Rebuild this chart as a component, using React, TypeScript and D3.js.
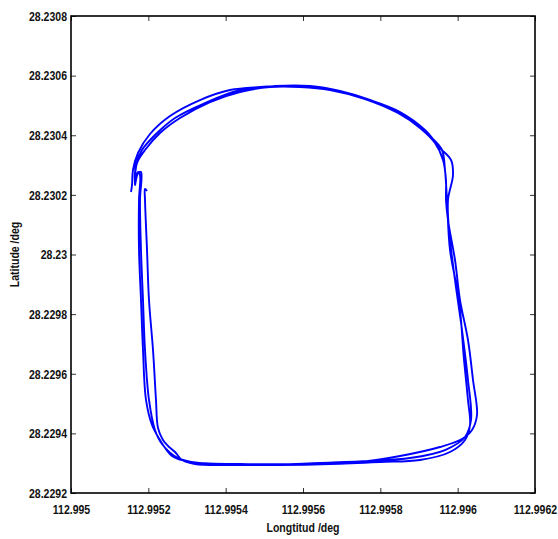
import { useEffect, useRef } from 'react';
import * as d3 from 'd3';

// tick values as shown on the axes
const lonTicks = [112.995, 112.9952, 112.9954, 112.9956, 112.9958, 112.996, 112.9962];
const latTicks = [28.2292, 28.2294, 28.2296, 28.2298, 28.23, 28.2302, 28.2304, 28.2306, 28.2308];

// GPS track, three laps
const lonLap1 = [112.9951966, 112.9951914, 112.9951914, 112.9951966, 112.9952017, 112.9952121, 112.9952198, 112.995225, 112.9952379, 112.9952509, 112.995269, 112.9952871, 112.9953207, 112.9954112, 112.9955405, 112.9956698, 112.9957991, 112.9959026, 112.9959802, 112.996019, 112.9960319, 112.9960267, 112.9960164, 112.9960034, 112.9959802, 112.9959724, 112.9959672, 112.9959595, 112.9959336, 112.9958974, 112.9958509, 112.9957733, 112.9956957, 112.9956181, 112.9955276, 112.9954371, 112.9953466, 112.995269, 112.9952172, 112.9951836, 112.9951681, 112.9951655, 112.9951733];
const latLap1 = [28.230213, 28.2302197, 28.2301828, 28.2300151, 28.2298474, 28.2296797, 28.229512, 28.229418, 28.2293778, 28.2293577, 28.2293375, 28.2293107, 28.2292973, 28.2292939, 28.2292939, 28.2292973, 28.229304, 28.2293107, 28.2293375, 28.2293778, 28.2294281, 28.229512, 28.2296461, 28.2298474, 28.2300151, 28.2301828, 28.2302834, 28.2303505, 28.2303908, 28.2304344, 28.2304746, 28.2305182, 28.2305484, 28.2305652, 28.2305652, 28.2305518, 28.2305082, 28.2304579, 28.2304008, 28.2303505, 28.2303002, 28.2302499, 28.2302767];

const lonLap2 = [112.9951784, 112.9951759, 112.9951759, 112.995181, 112.9951862, 112.995194, 112.9952095, 112.9952302, 112.9952612, 112.9953078, 112.9954371, 112.9955922, 112.9957474, 112.9958509, 112.9959543, 112.9960112, 112.9960371, 112.99605, 112.9960397, 112.9960267, 112.996006, 112.9959931, 112.995975, 112.9959698, 112.9959698, 112.9959621, 112.9959414, 112.9959026, 112.9958457, 112.9957603, 112.9956698, 112.9955922, 112.9955147, 112.9954371, 112.9953595, 112.9952819, 112.9952302, 112.9951914, 112.9951707, 112.9951655, 112.9951733];
const latLap2 = [28.2302667, 28.2301828, 28.2300151, 28.2298474, 28.2296797, 28.229512, 28.2294281, 28.2293778, 28.2293241, 28.229304, 28.2292973, 28.2292973, 28.229304, 28.2293241, 28.2293543, 28.2293811, 28.2294113, 28.2294616, 28.229579, 28.2297132, 28.2298474, 28.2299816, 28.2301157, 28.2301828, 28.2302499, 28.230317, 28.230374, 28.2304243, 28.2304746, 28.2305216, 28.2305518, 28.2305618, 28.2305618, 28.2305451, 28.2305115, 28.2304579, 28.2304076, 28.2303505, 28.2303069, 28.2302331, 28.2302734];

const lonLap3 = [112.995181, 112.9951784, 112.995181, 112.9951862, 112.9951914, 112.9952017, 112.9952172, 112.9952353, 112.9952767, 112.9953336, 112.9954888, 112.995644, 112.9957733, 112.9958767, 112.9959672, 112.996019, 112.9960345, 112.9960267, 112.9960112, 112.9959931, 112.9959776, 112.995975, 112.9959879, 112.9959828, 112.9959543, 112.9959155, 112.9958509, 112.9957733, 112.9956698, 112.9955664, 112.9954888, 112.9954112, 112.9953336, 112.995256, 112.9952043, 112.9951733, 112.9951603, 112.9951578, 112.9951552];
const latLap3 = [28.2302767, 28.2301828, 28.2300151, 28.2298474, 28.2296797, 28.229512, 28.2294113, 28.2293644, 28.2293174, 28.2293006, 28.2292939, 28.2293006, 28.2293073, 28.2293174, 28.2293442, 28.2293878, 28.2294449, 28.229579, 28.2297468, 28.2299145, 28.2300822, 28.2301828, 28.2302667, 28.230317, 28.2303572, 28.2304176, 28.230478, 28.2305182, 28.2305551, 28.2305652, 28.2305618, 28.2305518, 28.2305182, 28.2304646, 28.2304042, 28.2303405, 28.2302834, 28.2302331, 28.2302096];

const lonAll = [...lonLap1, ...lonLap2, ...lonLap3];
const latAll = [...latLap1, ...latLap2, ...latLap3];

const fmt = (v: number) => String(+v.toFixed(4));

const App = () => {
  const ref = useRef<SVGSVGElement>(null);
  useEffect(() => {
    const svg = d3.select(ref.current);
    svg.selectAll('*').remove();
    const width = 558;
    const height = 539;
    const margin = { top: 16, right: 23, bottom: 46, left: 71 };
    const innerWidth = width - margin.left - margin.right;
    const innerHeight = height - margin.top - margin.bottom;
    const font = '"Liberation Sans", Arial, sans-serif';
    const fs = '13.5px';
    const squeeze = 0.78;

    const xScale = d3.scaleLinear().domain([112.995, 112.9962]).range([0, innerWidth]);
    const yScale = d3.scaleLinear().domain([28.2292, 28.2308]).range([innerHeight, 0]);

    const g = svg.append('g').attr('transform', `translate(${margin.left},${margin.top})`);

    // track
    const pts: [number, number][] = lonAll.map((d, i) => [d, latAll[i]]);
    const line = d3.line<[number, number]>()
      .x(d => xScale(d[0]))
      .y(d => yScale(d[1]))
      .curve(d3.curveCatmullRom.alpha(0.5));
    g.append('path').datum(pts)
      .attr('d', line)
      .attr('fill', 'none')
      .attr('stroke', '#0000ff')
      .attr('stroke-width', 1.9)
      .attr('stroke-linejoin', 'round');

    // axes, ticks pointing inward
    const styleAxis = (a: d3.Selection<SVGGElement, unknown, null, undefined>) => {
      a.select('.domain').remove();
      a.selectAll('.tick line').attr('stroke', '#333').attr('stroke-width', 1);
      a.selectAll('.tick text')
        .attr('fill', '#111')
        .style('font-family', font)
        .style('font-weight', 'bold')
        .style('font-size', fs);
    };

    const xAxisG = g.append('g').attr('transform', `translate(0,${innerHeight})`)
      .call(d3.axisBottom(xScale).tickValues(lonTicks).tickFormat(d => fmt(+d)).tickSize(-5).tickSizeOuter(0).tickPadding(11));
    styleAxis(xAxisG);
    const xTopG = g.append('g')
      .call(d3.axisTop(xScale).tickValues(lonTicks).tickFormat(() => '').tickSize(-5).tickSizeOuter(0));
    styleAxis(xTopG);
    const yAxisG = g.append('g')
      .call(d3.axisLeft(yScale).tickValues(latTicks).tickFormat(d => fmt(+d)).tickSize(-5).tickSizeOuter(0).tickPadding(4));
    styleAxis(yAxisG);
    const yRightG = g.append('g').attr('transform', `translate(${innerWidth},0)`)
      .call(d3.axisRight(yScale).tickValues(latTicks).tickFormat(() => '').tickSize(-5).tickSizeOuter(0));
    styleAxis(yRightG);

    // box
    g.append('rect')
      .attr('width', innerWidth).attr('height', innerHeight)
      .attr('fill', 'none').attr('stroke', '#000').attr('stroke-width', 1.6);

    // axis titles
    svg.append('text').text('Longtitud /deg')
      .attr('transform', `translate(${margin.left + innerWidth / 2},532)`)
      .attr('text-anchor', 'middle')
      .style('font-family', font).style('font-weight', 'bold').style('font-size', fs)
      .attr('fill', '#111');
    svg.append('text').text('Latitude /deg')
      .attr('transform', `translate(19,${margin.top + innerHeight / 2}) rotate(-90)`)
      .attr('text-anchor', 'middle')
      .style('font-family', font).style('font-weight', 'bold').style('font-size', fs)
      .attr('fill', '#111');

    // condensed look of the original font: squeeze each text horizontally
    svg.selectAll<SVGTextElement, unknown>('text').each(function () {
      if (!this.textContent) return;
      const x = +(this.getAttribute('x') || 0);
      this.setAttribute('x', String(x / squeeze));
      const t = this.getAttribute('transform') || '';
      this.setAttribute('transform', `${t} scale(${squeeze},1)`.trim());
    });
  }, []);

  return (
    <svg ref={ref} width={558} height={539}
      style={{ position: 'absolute', left: 0, top: 0, background: '#fff' }} />
  );
};

export default App;
